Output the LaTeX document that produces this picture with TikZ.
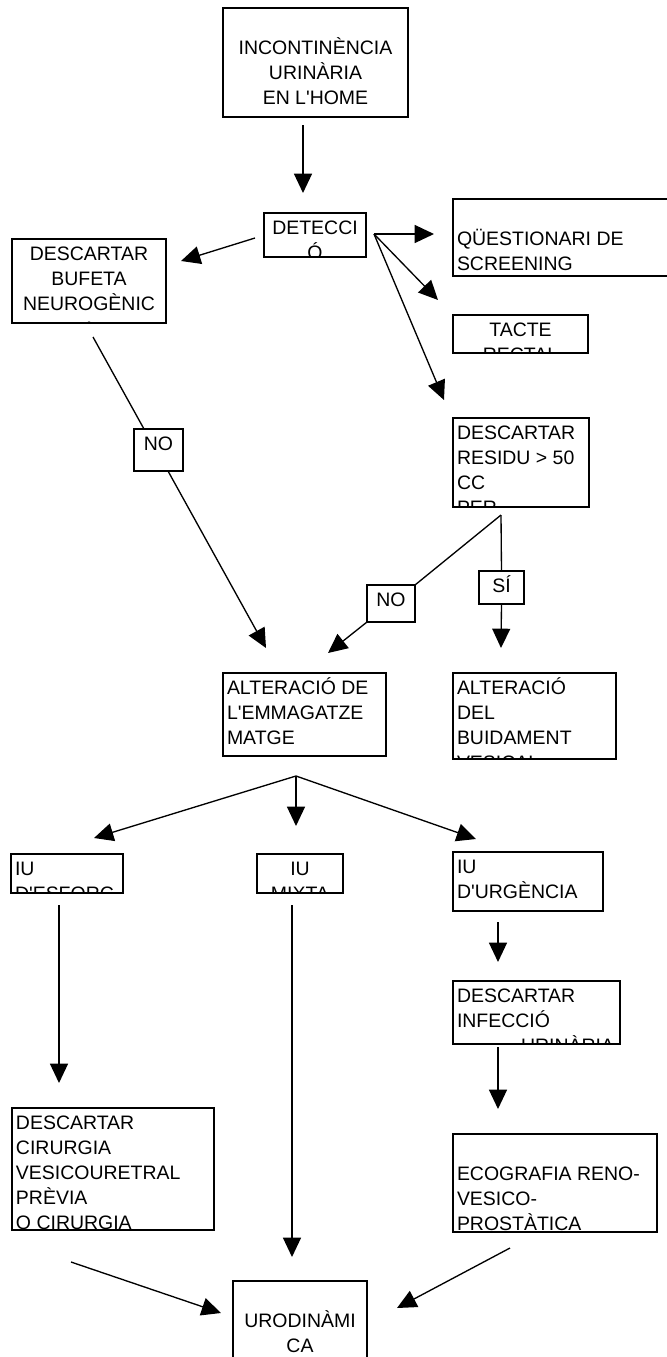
\documentclass[tikz,border=0pt]{standalone}
\usepackage{fontspec}
\setmainfont{Liberation Sans}
\usetikzlibrary{arrows.meta}
\tikzset{
  box/.style={draw,line width=1.2pt,anchor=north west,inner sep=0pt,outer sep=0pt},
  sz/.style 2 args={minimum width=#1*0.75pt,minimum height=#2*0.75pt},
  txt/.style={draw=none,inner sep=0pt,outer sep=0pt,minimum width=0pt,minimum height=0pt,
    font=\fontsize{14.6}{18.75}\selectfont},
  lt/.style={path picture={\node[txt,align=left,anchor=north west]
      at ([shift={(4,4)}]path picture bounding box.north west) {\strut#1};}},
  ct/.style={path picture={\node[txt,align=center,anchor=north]
      at ([shift={(0,4)}]path picture bounding box.north) {\strut#1};}},
  arr/.style={-{Triangle[length=14.5pt,width=13.5pt]},line width=1pt},
  ln/.style={line width=1pt},
}
\begin{document}
\begin{tikzpicture}[x=0.75pt,y=-0.75pt]
  \useasboundingbox (0,0) rectangle (667,1357);
  \clip (0,0) rectangle (667,1357);

  % --- top
  \node[box,sz={185}{109},ct={\mbox{}\\INCONTINÈNCIA\\URINÀRIA\\EN L\textquotesingle{}HOME}] (inc) at (223,8) {};
  \node[box,sz={102}{44},ct={DETECCI\\Ó}] (det) at (264,213) {};
  \node[box,sz={154}{84},ct={DESCARTAR\\BUFETA\\NEUROGÈNIC\\A}] (buf) at (12,239) {};
  \node[box,sz={240}{77},lt={\mbox{}\\QÜESTIONARI DE\\SCREENING}] (que) at (453,199) {};
  \node[box,sz={135}{38},ct={TACTE\\RECTAL}] (tac) at (453,315) {};
  \node[box,sz={136}{89},lt={DESCARTAR\\RESIDU > 50\\CC\\PER}] (res) at (453,418) {};

  % --- yes / no
  \node[box,sz={49}{42},ct={NO}] (noa) at (134,429) {};
  \node[box,sz={48}{37},ct={NO}] (nob) at (367,585) {};
  \node[box,sz={45}{33},ct={SÍ}] (si) at (479,571) {};

  % --- alteracions
  \node[box,sz={163}{83},lt={ALTERACIÓ DE\\L\textquotesingle{}EMMAGATZE\\MATGE}] (ale) at (223,673) {};
  \node[box,sz={163}{86},lt={ALTERACIÓ\\DEL\\BUIDAMENT\\VESICAL}] (ald) at (453,673) {};

  % --- tipus IU
  \node[box,sz={112}{39},lt={IU\\D\textquotesingle{}ESFORÇ}] (esf) at (11,854) {};
  \node[box,sz={86}{39},ct={IU\\MIXTA}] (mix) at (257,854) {};
  \node[box,sz={150}{59},lt={IU\\D\textquotesingle{}URGÈNCIA}] (urg) at (453,852) {};

  % --- proves
  \node[box,sz={167}{63},lt={DESCARTAR\\INFECCIÓ\\\hspace*{48pt}URINÀRIA}] (inf) at (453,981) {};
  \node[box,sz={202}{122},lt={DESCARTAR\\CIRURGIA\\VESICOURETRAL\\PRÈVIA\\O CIRURGIA}] (cir) at (12,1108) {};
  \node[box,sz={204}{98},lt={\mbox{}\\ECOGRAFIA RENO-\\VESICO-\\PROSTÀTICA}] (eco) at (453,1134) {};
  \node[box,sz={134}{110},ct={\mbox{}\\URODINÀMI\\CA}] (uro) at (233,1281) {};

  % --- connector ends
  \coordinate (inc-o) at (303,125);  \coordinate (det-i) at (303,193);
  \coordinate (det-l) at (255,238);  \coordinate (buf-i) at (181,261);
  \coordinate (det-o) at (374,234);
  \coordinate (que-i) at (434,234);  \coordinate (tac-i) at (438,300);
  \coordinate (res-i) at (444,400);
  \coordinate (buf-o) at (93,337);   \coordinate (noa-i) at (144,429);
  \coordinate (noa-o) at (168,471);  \coordinate (ale-i1) at (266,648);
  \coordinate (res-o) at (501,515);
  \coordinate (ale-i2) at (328,653); \coordinate (ald-i) at (501,648);
  \coordinate (ale-o) at (296,776);
  \coordinate (esf-i) at (94,838);   \coordinate (mix-i) at (296,826);
  \coordinate (urg-i) at (476,839);
  \coordinate (esf-o) at (59,905);   \coordinate (cir-i) at (59,1083);
  \coordinate (mix-o) at (292,905);  \coordinate (uro-i1) at (292,1257);
  \coordinate (urg-o) at (498,922);  \coordinate (inf-i) at (498,962);
  \coordinate (inf-o) at (498,1047); \coordinate (eco-i) at (498,1109);
  \coordinate (cir-o) at (71,1262);  \coordinate (uro-i2) at (221,1313);
  \coordinate (eco-o) at (510,1248); \coordinate (uro-i3) at (397,1308);

  % --- connectors
  \draw[arr] (inc-o) -- (det-i);
  \draw[arr] (det-l) -- (buf-i);
  \draw[arr] (det-o) -- (que-i);
  \draw[arr] (det-o) -- (tac-i);
  \draw[arr] (det-o) -- (res-i);
  \draw[ln] (buf-o) -- (noa-i);
  \draw[arr] (noa-o) -- (ale-i1);
  \draw[ln] (res-o) -- (nob.north east);
  \draw[ln] (res-o) -- (si.north);
  \draw[arr] (nob.south west) -- (ale-i2);
  \draw[arr] (si.south) -- (ald-i);
  \draw[arr] (ale-o) -- (esf-i);
  \draw[arr] (ale-o) -- (mix-i);
  \draw[arr] (ale-o) -- (urg-i);
  \draw[arr] (esf-o) -- (cir-i);
  \draw[arr] (mix-o) -- (uro-i1);
  \draw[arr] (urg-o) -- (inf-i);
  \draw[arr] (inf-o) -- (eco-i);
  \draw[arr] (cir-o) -- (uro-i2);
  \draw[arr] (eco-o) -- (uro-i3);
\end{tikzpicture}
\end{document}
